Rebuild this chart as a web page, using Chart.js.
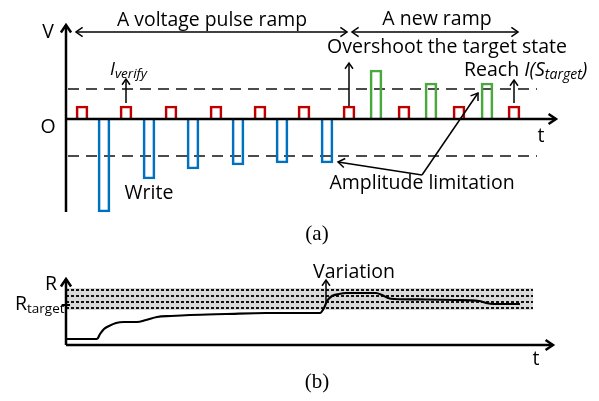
<!DOCTYPE html>
<html>
<head>
<meta charset="utf-8">
<script src="https://cdn.jsdelivr.net/npm/chart.js@4.4.1/dist/chart.umd.min.js"></script>
<style>
  html, body { margin: 0; padding: 0; background: #fff; }
  #wrap { width: 599px; height: 401px; }
</style>
</head>
<body>
<div id="wrap"><canvas id="pulseChart" width="599" height="401"></canvas></div>
<script>
// --- panel (a): pulse train, time in arbitrary units, V in arbitrary units
const verifyTimes = [1.6, 6.0, 10.5, 15.0, 19.4, 23.8, 28.3, 33.8, 39.3, 44.8];
const verifyLevel = 1.3;
const writeTimes = [3.8, 8.3, 12.7, 17.2, 21.6, 26.1];
const writeAmps = [-9.3, -6.0, -5.0, -4.6, -4.4, -4.4];
const rampTimes = [31.0, 36.5, 42.1];
const rampAmps = [4.9, 3.6, 3.6];
const limitLevels = [3.0, -3.7];
const limitSpan = [0.2, 47.1];

// --- panel (b): resistance vs time
const rTimes = [0.1, 3.1, 3.4, 3.8, 4.3, 5.0, 5.8, 7.1, 8.0, 9.1, 10.5, 12.4, 16.0, 20.0, 25.4,
                25.8, 26.1, 26.6, 27.3, 28.0, 31.0, 31.6, 32.2, 32.8, 36.0, 39.0, 41.3, 42.0, 42.7, 45.4];
const rValues = [0.6, 0.6, 1.1, 1.6, 1.9, 2.2, 2.3, 2.3, 2.5, 2.8, 2.9, 3.0, 3.1, 3.2, 3.2,
                 3.7, 4.4, 4.9, 5.1, 5.2, 5.2, 5.0, 4.7, 4.6, 4.55, 4.5, 4.4, 4.2, 4.1, 4.1];
const bandLevels = [5.5, 4.9, 4.3, 3.7];
const bandEdges = [5.7, 3.5];
const bandSpan = [0, 46.7];
const rTarget = 4.0;

const SANS = '"Open Sans", "DejaVu Sans", sans-serif';
const SERIF = '"Liberation Serif", "DejaVu Serif", serif';

function pulses(times, amps) {
    return times.map((t, i) => ({ x: t, y: Array.isArray(amps) ? amps[i] : amps }));
}

function hline(level, span) {
    return [{ x: span[0], y: level }, { x: span[1], y: level }];
}

function pulseSet(times, amps, color) {
    return {
        type: 'bar',
        data: pulses(times, amps),
        yAxisID: 'y',
        borderColor: color,
        backgroundColor: 'rgba(0,0,0,0)',
        borderWidth: 2,
        barThickness: 12,
        grouped: false,
        order: 2
    };
}

function lineSet(data, axis, extra) {
    return Object.assign({
        type: 'line',
        data: data,
        yAxisID: axis,
        borderColor: '#111',
        borderWidth: 1.5,
        pointRadius: 0,
        fill: false,
        order: 3
    }, extra);
}

function head(ctx, x0, y0, x1, y1, size) {
    const a = Math.atan2(y1 - y0, x1 - x0);
    const s = size || 8;
    ctx.beginPath();
    ctx.moveTo(x1 - s * Math.cos(a - 0.6), y1 - s * Math.sin(a - 0.6));
    ctx.lineTo(x1, y1);
    ctx.lineTo(x1 - s * Math.cos(a + 0.6), y1 - s * Math.sin(a + 0.6));
    ctx.stroke();
}

function arrow(ctx, x0, y0, x1, y1, size, both) {
    ctx.beginPath();
    ctx.moveTo(x0, y0);
    ctx.lineTo(x1, y1);
    ctx.stroke();
    head(ctx, x0, y0, x1, y1, size);
    if (both) head(ctx, x1, y1, x0, y0, size);
}

// draw a list of text runs left to right: [text, font, dy]
function runs(ctx, x, y, parts) {
    ctx.textAlign = 'left';
    parts.forEach(p => {
        ctx.font = p[1];
        ctx.fillText(p[0], x, y + (p[2] || 0));
        x += ctx.measureText(p[0]).width;
    });
}

function label(ctx, text, x, y, font, maxW) {
    ctx.font = font;
    ctx.textAlign = 'center';
    if (maxW) ctx.fillText(text, x, y, maxW);
    else ctx.fillText(text, x, y);
}

const sketchPlugin = {
    id: 'sketch',
    afterDatasetsDraw(chart) {
        const { ctx, scales } = chart;
        const X = t => scales.x.getPixelForValue(t);
        const V = v => scales.y.getPixelForValue(v);
        const R = r => scales.y2.getPixelForValue(r);

        ctx.save();
        ctx.strokeStyle = '#000';
        ctx.fillStyle = '#000';
        ctx.lineCap = 'butt';
        ctx.textBaseline = 'alphabetic';

        // panel (a) axes
        ctx.lineWidth = 2.5;
        arrow(ctx, X(0), V(-9.3), X(0), V(9.4), 9);
        arrow(ctx, X(0), V(0), X(49.0), V(0), 9);

        // ramp spans
        ctx.lineWidth = 1.5;
        arrow(ctx, X(28.1), V(8.7), X(1.0), V(8.7), 8, true);
        arrow(ctx, X(45.2), V(8.7), X(28.6), V(8.7), 8, true);

        // verify arrows
        arrow(ctx, X(6.0), V(1.6), X(6.0), V(4.0), 7);
        arrow(ctx, X(28.3), V(1.3), X(28.3), V(5.6), 7);
        arrow(ctx, X(44.8), V(1.6), X(44.8), V(3.9), 7);

        // amplitude limitation pointers
        arrow(ctx, X(35.6), V(-5.6), X(27.2), V(-4.3), 8);
        arrow(ctx, X(35.6), V(-5.6), X(41.2), V(2.6), 8);

        // panel (b) axes
        ctx.lineWidth = 2.5;
        arrow(ctx, X(0), R(0), X(0), R(6.6), 9);
        arrow(ctx, X(0), R(0), X(48.7), R(0), 9);
        ctx.lineWidth = 2;
        ctx.beginPath();
        ctx.moveTo(X(-0.4), R(rTarget));
        ctx.lineTo(X(0.4), R(rTarget));
        ctx.stroke();
        ctx.lineWidth = 1.5;
        arrow(ctx, X(26.0), R(4.2), X(26.0), R(6.5), 7);

        // text
        const f = '19.5px ' + SANS;
        const fi = 'italic 19.5px ' + SANS;
        label(ctx, 'V', X(-1.8), V(8.1), f);
        label(ctx, 'O', X(-1.8), V(-1.4), f);
        label(ctx, 'A voltage pulse ramp', X(14.6), V(9.3), f, 190);
        label(ctx, 'A new ramp', X(37.1), V(9.4), f, 110);
        label(ctx, 'Overshoot the target state', X(38.1), V(6.6), f, 240);
        label(ctx, 'Write', X(8.3), V(-8.0), f, 49);
        label(ctx, 't', X(47.5), V(-2.3), f);
        label(ctx, 'Amplitude limitation', X(35.6), V(-7.0), f, 186);
        label(ctx, '(a)', X(25.1), V(-12.1), '21px ' + SERIF);

        runs(ctx, X(4.4), V(4.4), [
            ['I', 'italic 18px ' + SANS],
            ['verify', 'italic 13.5px ' + SANS, 3]
        ]);
        runs(ctx, X(39.8), V(4.3), [
            ['Reach ', f],
            ['I(S', fi],
            ['target', 'italic 14px ' + SANS, 3],
            [')', fi]
        ]);

        label(ctx, 'R', X(-1.5), R(5.5), f);
        runs(ctx, X(-5.1), R(3.5), [
            ['R', f],
            ['target', '13.5px ' + SANS, 3]
        ]);
        label(ctx, 'Variation', X(28.8), R(6.7), f, 82);
        label(ctx, 't', X(47.0), R(-2.0), f);
        label(ctx, '(b)', X(25.1), R(-4.3), '21px ' + SERIF);

        ctx.restore();
    }
};

const datasets = [
    pulseSet(verifyTimes, verifyLevel, '#c00000'),
    pulseSet(writeTimes, writeAmps, '#0070c0'),
    pulseSet(rampTimes, rampAmps, '#4aa83e')
];

limitLevels.forEach(lv => {
    datasets.push(lineSet(hline(lv, limitSpan), 'y', { borderDash: [11, 7], borderWidth: 1.5 }));
});

// shaded tolerance band
datasets.push(lineSet(hline(bandEdges[0], bandSpan), 'y2', {
    borderWidth: 0, fill: '+1', backgroundColor: '#d9d9d9', order: 9
}));
datasets.push(lineSet(hline(bandEdges[1], bandSpan), 'y2', { borderWidth: 0, order: 9 }));

bandLevels.forEach(lv => {
    datasets.push(lineSet(hline(lv, bandSpan), 'y2', { borderDash: [3, 2], borderWidth: 2, order: 5 }));
});

datasets.push(lineSet(rTimes.map((t, i) => ({ x: t, y: rValues[i] })), 'y2', {
    borderColor: '#000', borderWidth: 2.2, cubicInterpolationMode: 'monotone', order: 1
}));

new Chart(document.getElementById('pulseChart'), {
    type: 'bar',
    data: { datasets: datasets },
    options: {
        responsive: false,
        animation: false,
        devicePixelRatio: 1,
        layout: { padding: 0 },
        plugins: { legend: { display: false }, tooltip: { enabled: false } },
        scales: {
            x: { type: 'linear', min: -6.6, max: 53.3, offset: false, display: false },
            y: { min: -28.2, max: 11.9, display: false },
            y2: { min: -5.6, max: 34.5, display: false }
        }
    },
    plugins: [sketchPlugin]
});
</script>
</body>
</html>
